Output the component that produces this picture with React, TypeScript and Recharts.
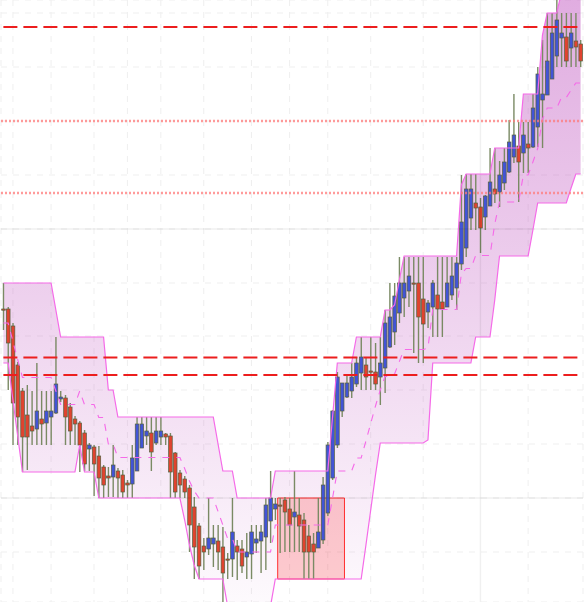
import {
  ComposedChart,
  XAxis,
  YAxis,
  CartesianGrid,
  Area,
  Line,
  Bar,
  ReferenceLine,
  ReferenceArea,
} from "recharts";

// candles (arbitrary price units)
const opens = [
  1293, 1293, 1276, 1237, 1211, 1187, 1176, 1173, 1183, 1179,
  1185, 1189, 1203, 1204, 1195, 1183, 1179, 1169, 1153, 1155,
  1146, 1135, 1126, 1125, 1131, 1127, 1119, 1118, 1131, 1154,
  1166, 1169, 1159, 1165, 1168, 1166, 1149, 1129, 1123, 1114,
  1095, 1076, 1056, 1053, 1058, 1061, 1055, 1043, 1043, 1056,
  1053, 1045, 1048, 1059, 1061, 1065, 1081, 1093, 1097, 1102,
  1093, 1085, 1087, 1082, 1066, 1058, 1054, 1062, 1089, 1124,
  1157, 1191, 1205, 1211, 1218, 1229, 1237, 1231, 1230, 1225,
  1234, 1255, 1270, 1289, 1304, 1311, 1319, 1319, 1303, 1290,
  1295, 1307, 1300, 1295, 1307, 1314, 1338, 1354, 1384, 1399,
  1395, 1385, 1396, 1413, 1410, 1419, 1430, 1445, 1456, 1449,
  1458, 1455, 1475, 1502, 1507, 1523, 1546, 1564, 1565, 1554,
  1561, 1558,
];

const highs = [
  1319, 1295, 1279, 1240, 1214, 1217, 1211, 1239, 1211, 1211,
  1211, 1265, 1211, 1207, 1199, 1186, 1181, 1172, 1159, 1157,
  1156, 1137, 1135, 1157, 1134, 1132, 1122, 1157, 1185, 1185,
  1185, 1185, 1185, 1185, 1169, 1169, 1150, 1132, 1126, 1117,
  1105, 1079, 1064, 1104, 1077, 1077, 1075, 1049, 1104, 1062,
  1062, 1069, 1077, 1077, 1077, 1104, 1131, 1104, 1104, 1105,
  1104, 1131, 1104, 1089, 1077, 1069, 1104, 1125, 1160, 1192,
  1230, 1219, 1227, 1239, 1245, 1265, 1245, 1265, 1259, 1265,
  1292, 1319, 1319, 1345, 1345, 1345, 1345, 1345, 1345, 1302,
  1322, 1345, 1345, 1345, 1345, 1345, 1427, 1428, 1428, 1428,
  1404, 1407, 1454, 1454, 1441, 1454, 1482, 1508, 1480, 1480,
  1480, 1508, 1535, 1562, 1589, 1589, 1602, 1589, 1589, 1589,
  1589, 1562,
];

const lows = [
  1272, 1212, 1157, 1157, 1130, 1132, 1157, 1157, 1157, 1157,
  1157, 1188, 1200, 1157, 1157, 1157, 1130, 1131, 1131, 1106,
  1104, 1104, 1105, 1105, 1104, 1104, 1104, 1104, 1131, 1154,
  1157, 1131, 1157, 1157, 1157, 1104, 1104, 1104, 1104, 1050,
  1023, 1023, 1032, 1047, 1035, 1032, 996, 1023, 1025, 1022,
  1029, 1023, 1023, 1049, 1029, 1032, 1059, 1082, 1049, 1050,
  1050, 1050, 1050, 1023, 1023, 1023, 1054, 1058, 1086, 1122,
  1154, 1185, 1204, 1204, 1215, 1212, 1212, 1212, 1212, 1197,
  1209, 1254, 1257, 1279, 1285, 1295, 1249, 1239, 1239, 1274,
  1265, 1265, 1265, 1295, 1302, 1292, 1332, 1345, 1372, 1372,
  1349, 1372, 1399, 1399, 1395, 1412, 1429, 1439, 1400, 1429,
  1429, 1454, 1455, 1454, 1507, 1523, 1535, 1535, 1535, 1535,
  1535, 1535,
];

const closes = [
  1292, 1259, 1199, 1185, 1165, 1165, 1171, 1191, 1178, 1191,
  1191, 1218, 1205, 1185, 1171, 1178, 1157, 1138, 1157, 1138,
  1124, 1117, 1124, 1137, 1124, 1110, 1117, 1144, 1178, 1178,
  1171, 1150, 1171, 1171, 1165, 1130, 1110, 1117, 1110, 1077,
  1055, 1036, 1050, 1064, 1064, 1050, 1029, 1042, 1070, 1050,
  1036, 1050, 1070, 1063, 1070, 1097, 1104, 1098, 1096, 1090,
  1077, 1090, 1076, 1050, 1050, 1050, 1070, 1117, 1157, 1191,
  1225, 1219, 1219, 1225, 1239, 1245, 1225, 1230, 1218, 1239,
  1279, 1285, 1306, 1319, 1319, 1326, 1318, 1285, 1278, 1299,
  1319, 1293, 1293, 1319, 1326, 1339, 1380, 1413, 1413, 1394,
  1374, 1406, 1420, 1408, 1427, 1440, 1460, 1467, 1440, 1467,
  1454, 1494, 1528, 1508, 1541, 1569, 1582, 1569, 1541, 1569,
  1555, 1541,
];

// channel bands
const upperBand = [
  1319, 1319, 1319, 1319, 1319, 1319, 1319, 1319, 1319, 1319,
  1319, 1292, 1265, 1265, 1265, 1265, 1265, 1265, 1265, 1265,
  1265, 1265, 1212, 1212, 1185, 1185, 1185, 1185, 1185, 1185,
  1185, 1185, 1185, 1185, 1185, 1185, 1185, 1185, 1185, 1185,
  1185, 1185, 1185, 1185, 1185, 1158, 1131, 1131, 1131, 1104,
  1104, 1104, 1104, 1104, 1104, 1104, 1104, 1131, 1131, 1131,
  1131, 1131, 1131, 1131, 1131, 1131, 1131, 1131, 1131, 1185,
  1239, 1239, 1239, 1239, 1265, 1265, 1265, 1265, 1265, 1265,
  1292, 1292, 1297, 1322, 1346, 1346, 1346, 1346, 1346, 1346,
  1346, 1346, 1346, 1346, 1346, 1346, 1417, 1428, 1428, 1428,
  1428, 1428, 1428, 1454, 1454, 1454, 1454, 1454, 1454, 1508,
  1508, 1508, 1508, 1567, 1589, 1589, 1589, 1610, 1610, 1610,
  1610, 1610,
];

const lowerBand = [
  1239, 1239, 1202, 1166, 1130, 1130, 1130, 1130, 1130, 1130,
  1130, 1130, 1130, 1130, 1130, 1130, 1157, 1130, 1130, 1130,
  1104, 1104, 1104, 1104, 1104, 1104, 1104, 1104, 1104, 1104,
  1104, 1104, 1104, 1104, 1104, 1104, 1104, 1104, 1082, 1057,
  1037, 1023, 1023, 1023, 1023, 1023, 1023, 996, 996, 996,
  996, 996, 996, 996, 996, 996, 996, 1023, 1023, 1023,
  1023, 1023, 1023, 1023, 1023, 1023, 1023, 1023, 1023, 1023,
  1023, 1023, 1023, 1023, 1023, 1023, 1057, 1092, 1127, 1159,
  1159, 1159, 1159, 1159, 1159, 1159, 1159, 1159, 1159, 1162,
  1239, 1239, 1239, 1239, 1239, 1239, 1239, 1239, 1239, 1265,
  1265, 1265, 1265, 1302, 1346, 1346, 1346, 1346, 1346, 1346,
  1346, 1372, 1399, 1399, 1399, 1399, 1399, 1399, 1399, 1414,
  1428, 1428,
];

const priceTicks = [1050, 1104, 1158, 1212, 1266, 1319, 1373, 1427, 1481, 1535, 1589];
const timeTicks = [2, 10, 19, 26, 33, 42, 52, 60, 68, 77, 88, 110];
const dashedLevels = [1575, 1244.5, 1227];
const dottedLevels = [1481, 1409];
const zoneBars = [58, 71];
const zonePrices = [1023, 1104];

const data = opens.map((open, i) => ({
  i,
  open,
  high: highs[i],
  low: lows[i],
  close: closes[i],
  upper: upperBand[i],
  lower: lowerBand[i],
  mid: (upperBand[i] + lowerBand[i]) / 2,
}));

const BAND = "#f56ae8";
const FAINT = "rgba(0,0,0,0.06)";

function Candle(props: any) {
  const { x, y, width, height, payload } = props;
  if (x == null || !payload) return null;
  const { open, close, high, low } = payload;
  const top = Math.min(y, y + height);
  const h = Math.abs(height);
  const cx = x + width / 2;
  const span = high - low || 1;
  const toY = (v: number) => top + ((high - v) / span) * h;
  const bodyTop = toY(Math.max(open, close));
  const bodyBottom = toY(Math.min(open, close));
  const up = close > open;
  return (
    <g>
      <line x1={cx} x2={cx} y1={top} y2={top + h} stroke="#7a8a64" strokeWidth={1.4} />
      <rect
        x={cx - 1.8}
        y={bodyTop}
        width={3.6}
        height={Math.max(bodyBottom - bodyTop, 1.2)}
        fill={up ? "#4254d6" : "#e0432f"}
        stroke="#55603f"
        strokeWidth={0.7}
      />
    </g>
  );
}

export default function App() {
  return (
    <div style={{ width: 584, height: 602, background: "#fff" }}>
      <style>{`body{margin:0}`}</style>
      <ComposedChart
        width={584}
        height={602}
        data={data}
        margin={{ top: 0, right: 1, bottom: 0, left: 1 }}
      >
        <defs>
          <linearGradient id="chan" gradientUnits="userSpaceOnUse" x1="0" y1="0" x2="0" y2="602">
            <stop offset="0%" stopColor="#be50be" stopOpacity={0.47} />
            <stop offset="50%" stopColor="#be50be" stopOpacity={0.26} />
            <stop offset="100%" stopColor="#be50be" stopOpacity={0.03} />
          </linearGradient>
        </defs>
        <CartesianGrid stroke="#efefef" strokeDasharray="6 6" />
        <XAxis dataKey="i" hide ticks={timeTicks} interval={0} />
        <YAxis hide domain={[1000, 1602]} allowDataOverflow ticks={priceTicks} />
        <ReferenceLine y={1104} stroke={FAINT} strokeWidth={1.5} />
        <ReferenceLine y={1373} stroke={FAINT} strokeWidth={1.5} />
        <ReferenceLine x={100} stroke={FAINT} strokeWidth={1.5} />
        <Area
          dataKey={(d: any) => [d.lower, d.upper]}
          type="linear"
          stroke="none"
          fill="url(#chan)"
          fillOpacity={1}
          isAnimationActive={false}
          activeDot={false}
        />
        <Line dataKey="upper" type="linear" stroke={BAND} strokeWidth={1.2} dot={false} isAnimationActive={false} />
        <Line dataKey="lower" type="linear" stroke={BAND} strokeWidth={1.2} dot={false} isAnimationActive={false} />
        <Line
          dataKey="mid"
          type="linear"
          stroke={BAND}
          strokeWidth={1.1}
          strokeDasharray="7 7"
          dot={false}
          isAnimationActive={false}
        />
        <ReferenceArea
          x1={zoneBars[0]}
          x2={zoneBars[1]}
          y1={zonePrices[0]}
          y2={zonePrices[1]}
          fill="#ff2a2a"
          fillOpacity={0.22}
          stroke="#ff3030"
          strokeWidth={1}
        />
        <Bar
          dataKey={(d: any) => [d.low, d.high]}
          shape={(p: any) => <Candle {...p} />}
          isAnimationActive={false}
        />
        {dottedLevels.map((v) => (
          <ReferenceLine key={v} y={v} stroke="#ff7a7a" strokeOpacity={0.75} strokeWidth={2.5} strokeDasharray="2 2" />
        ))}
        {dashedLevels.map((v) => (
          <ReferenceLine
            key={v}
            segment={[
              { x: 0, y: v },
              { x: 121, y: v },
            ]}
            stroke="#ec1e1e"
            strokeWidth={1.8}
            strokeDasharray="14 6"
          />
        ))}
      </ComposedChart>
    </div>
  );
}
